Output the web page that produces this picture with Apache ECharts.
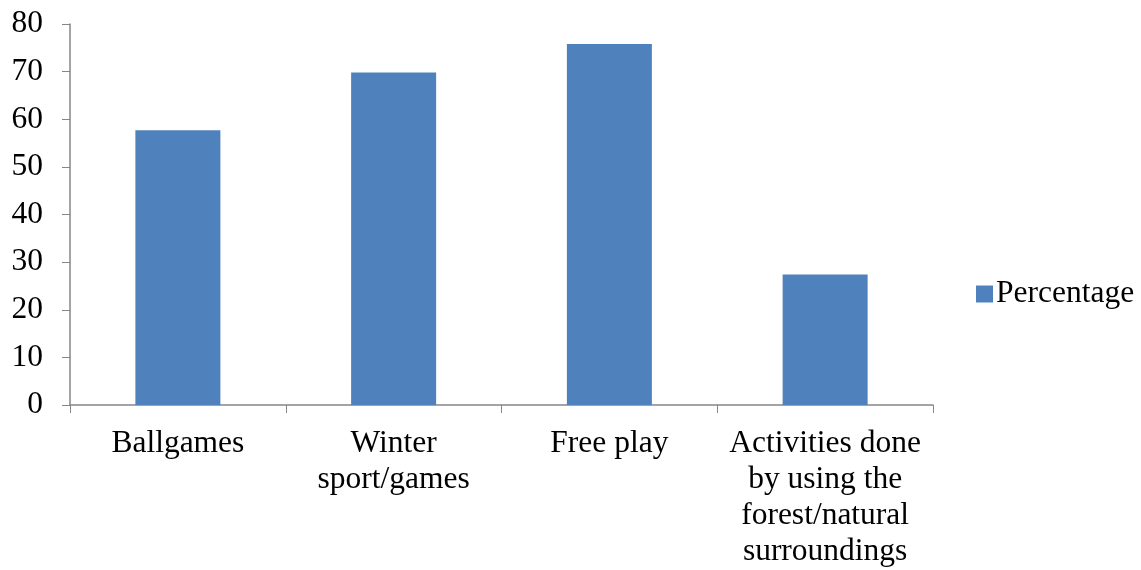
<!DOCTYPE html>
<html>
<head>
<meta charset="utf-8">
<script src="https://cdn.jsdelivr.net/npm/echarts@6/dist/echarts.min.js"></script>
<style>
  html, body { margin: 0; padding: 0; background: #fff; }
  #chart { width: 1141px; height: 570px; }
</style>
</head>
<body>
<div id="chart"></div>
<script>
// Categories (line breaks as in the original labels)
const categories = [
    'Ballgames',
    'Winter\nsport/games',
    'Free play',
    'Activities done\nby using the\nforest/natural\nsurroundings'
]
const percentage = [57.7, 69.8, 75.8, 27.4]

const axisColor = '#868686'
const barColor = '#4F81BD'
const font = '"Liberation Serif", "Times New Roman", serif'
const fontSize = 31.5

const chart = echarts.init(document.getElementById('chart'))

const option = {
    animation: false,
    textStyle: { fontFamily: font, color: '#000' },
    grid: { left: 70, right: 208, top: 24, bottom: 164 },
    legend: {
        data: ['Percentage'],
        left: 971,
        top: 273,
        icon: 'rect',
        itemWidth: 17,
        itemHeight: 17,
        itemGap: 6,
        textStyle: { fontFamily: font, fontSize: fontSize, lineHeight: 32, color: '#000', padding: [0, 0, 0, -2] }
    },
    xAxis: {
        type: 'category',
        data: categories,
        axisLine: { lineStyle: { color: axisColor, width: 1.5 } },
        axisTick: { show: true, alignWithLabel: false, length: 8, lineStyle: { color: axisColor } },
        axisLabel: {
            interval: 0,
            margin: 21,
            fontFamily: font,
            fontSize: fontSize,
            lineHeight: 36,
            color: '#000',
            verticalAlign: 'top'
        }
    },
    yAxis: {
        type: 'value',
        min: 0,
        max: 80,
        interval: 10,
        splitLine: { show: false },
        axisLine: { show: true, lineStyle: { color: axisColor, width: 1.5 } },
        axisTick: { show: true, inside: false, length: 8, lineStyle: { color: axisColor } },
        axisLabel: { margin: 27, fontFamily: font, fontSize: fontSize, color: '#000' }
    },
    series: [
        {
            name: 'Percentage',
            type: 'bar',
            data: percentage,
            barWidth: 85,
            itemStyle: { color: barColor }
        }
    ]
}

chart.setOption(option)
</script>
</body>
</html>
